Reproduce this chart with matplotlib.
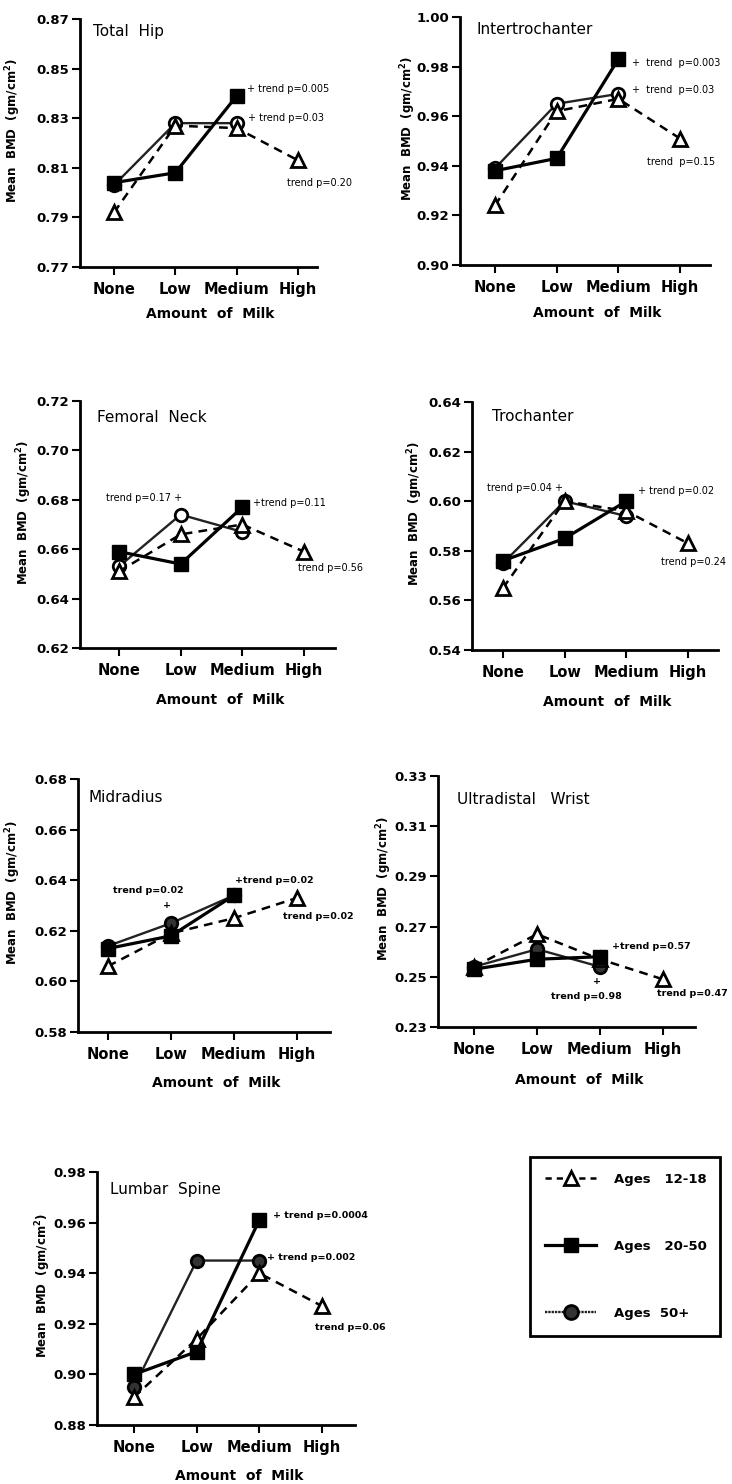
import matplotlib
matplotlib.use('Agg')
import matplotlib.pyplot as plt
from matplotlib.lines import Line2D

plt.rcParams['font.family'] = ['DejaVu Sans']

categories = ['None', 'Low', 'Medium', 'High']
sites = ['Total  Hip', 'Intertrochanter', 'Femoral  Neck', 'Trochanter',
         'Midradius', 'Ultradistal   Wrist', 'Lumbar  Spine']
series_names = ['Ages   12-18', 'Ages   20-50', 'Ages  50+']

yticks = [
    [0.77, 0.79, 0.81, 0.83, 0.85, 0.87],
    [0.90, 0.92, 0.94, 0.96, 0.98, 1.00],
    [0.62, 0.64, 0.66, 0.68, 0.70, 0.72],
    [0.54, 0.56, 0.58, 0.60, 0.62, 0.64],
    [0.58, 0.60, 0.62, 0.64, 0.66, 0.68],
    [0.23, 0.25, 0.27, 0.29, 0.31, 0.33],
    [0.88, 0.90, 0.92, 0.94, 0.96, 0.98],
]

# mean BMD (gm/cm2) by milk intake
teen = [  # Ages 12-18: None, Low, Medium, High
    [0.792, 0.827, 0.826, 0.813],
    [0.924, 0.962, 0.967, 0.951],
    [0.651, 0.666, 0.670, 0.659],
    [0.565, 0.600, 0.596, 0.583],
    [0.606, 0.619, 0.625, 0.633],
    [0.254, 0.267, 0.257, 0.249],
    [0.891, 0.914, 0.940, 0.927],
]
adult = [  # Ages 20-50: None, Low, Medium
    [0.804, 0.808, 0.839],
    [0.938, 0.943, 0.983],
    [0.659, 0.654, 0.677],
    [0.576, 0.585, 0.600],
    [0.613, 0.618, 0.634],
    [0.253, 0.257, 0.258],
    [0.900, 0.909, 0.961],
]
older = [  # Ages 50+: None, Low, Medium
    [0.803, 0.828, 0.828],
    [0.939, 0.965, 0.969],
    [0.653, 0.674, 0.667],
    [0.575, 0.600, 0.594],
    [0.614, 0.623, 0.634],
    [0.254, 0.261, 0.254],
    [0.895, 0.945, 0.945],
]

# trend annotations: (text, x, y, ha)
notes = [
    [('+ trend p=0.005', 2.17, 0.8418, 'left'), ('+ trend p=0.03', 2.19, 0.8302, 'left'),
     ('trend p=0.20', 2.82, 0.8040, 'left')],
    [('+  trend  p=0.003', 2.22, 0.9815, 'left'), ('+  trend  p=0.03', 2.22, 0.9706, 'left'),
     ('trend  p=0.15', 2.46, 0.9415, 'left')],
    [('trend p=0.17 +', 1.02, 0.6807, 'right'), ('+trend p=0.11', 2.17, 0.6787, 'left'),
     ('trend p=0.56', 2.90, 0.6524, 'left')],
    [('trend p=0.04 +', 0.97, 0.6053, 'right'), ('+ trend p=0.02', 2.19, 0.6040, 'left'),
     ('trend p=0.24', 2.56, 0.5755, 'left')],
    [('trend p=0.02', 0.64, 0.6360, 'center'), ('+', 0.93, 0.6300, 'center'),
     ('+trend p=0.02', 2.02, 0.6400, 'left'), ('trend p=0.02', 2.78, 0.6255, 'left')],
    [('+trend p=0.57', 2.19, 0.2619, 'left'), ('+', 1.95, 0.2483, 'center'),
     ('trend p=0.98', 1.79, 0.2420, 'center'), ('trend p=0.47', 2.90, 0.2435, 'left')],
    [('+ trend p=0.0004', 2.22, 0.9630, 'left'), ('+ trend p=0.002', 2.12, 0.9464, 'left'),
     ('trend p=0.06', 2.89, 0.9187, 'left')],
]

# layout in pixels: left, top, right, bottom, x of None tick, x of High tick
boxes = [
    (80, 19, 317, 267, 114, 298),
    (460, 17, 710, 265, 495, 680),
    (80, 401, 335, 648, 119, 304),
    (472, 402, 718, 650, 503, 688),
    (78, 779, 330, 1032, 108, 297),
    (438, 776, 695, 1027, 474, 663),
    (97, 1172, 355, 1425, 134, 322),
]
title_pos = [(0.055, 0.948), (0.064, 0.95), (0.067, 0.935), (0.08, 0.94),
             (0.04, 0.925), (0.075, 0.905), (0.05, 0.93)]
ylab_x = [-0.24, -0.168, -0.18, -0.19, -0.22, -0.171, -0.17]
xlab_y = [-0.19, -0.195, -0.21, -0.21, -0.2, -0.21, -0.2]
circle_face = ['white', 'white', 'white', 'white', '#333333', '#333333', '#333333']

W, H = 732, 1484
fig = plt.figure(figsize=(W / 100, H / 100), dpi=100)

for i, site in enumerate(sites):
    l, t, r, b, p0, p3 = boxes[i]
    ax = fig.add_axes([l / W, 1 - b / H, (r - l) / W, (b - t) / H])
    s = (p3 - p0) / 3.0
    ax.set_xlim((l - p0) / s, (r - p0) / s)
    ax.set_ylim(yticks[i][0], yticks[i][-1])

    x4 = list(range(len(categories)))
    ax.plot(x4, teen[i], color='black', lw=1.8, ls=(0, (3.5, 2.5)), marker='^',
            ms=9.5, mfc='white', mec='black', mew=2.0, zorder=3)
    ax.plot(x4[:3], adult[i], color='black', lw=2.3, marker='s', ms=10,
            mfc='black', mec='black', zorder=4)
    ax.plot(x4[:3], older[i], color='#222222', lw=1.7, marker='o', ms=9,
            mfc=circle_face[i], mec='black', mew=2.0, zorder=2)

    for sp in ['top', 'right']:
        ax.spines[sp].set_visible(False)
    for sp in ['left', 'bottom']:
        ax.spines[sp].set_linewidth(2)
    ax.set_xticks(x4)
    ax.set_xticklabels(categories, fontsize=10.5, fontweight='bold')
    ax.set_yticks(yticks[i])
    ax.set_yticklabels(['%.2f' % v for v in yticks[i]], fontsize=9.5, fontweight='bold')
    ax.tick_params(axis='both', direction='out', length=6, width=1.5)
    ax.tick_params(axis='x', pad=5)
    ax.tick_params(axis='y', pad=2)

    ax.text(title_pos[i][0], title_pos[i][1], site, transform=ax.transAxes,
            fontsize=11, va='center', ha='left')
    ax.set_ylabel('Mean  BMD  (gm/cm$^\\mathbf{2}$)', fontsize=8.5, fontweight='bold')
    ax.yaxis.set_label_coords(ylab_x[i], 0.55)
    ax.text(0.55, xlab_y[i], 'Amount  of  Milk', transform=ax.transAxes, fontsize=10,
            fontweight='bold', ha='center', va='center')

    for txt, x, y, ha in notes[i]:
        if i >= 4:
            ax.text(x, y, txt, fontsize=6.8, ha=ha, va='center', fontweight='bold')
        else:
            ax.text(x, y, txt, fontsize=7, ha=ha, va='center')

handles = [
    Line2D([], [], color='black', lw=1.8, ls=(0, (2.5, 2)), marker='^', ms=9.5,
           mfc='white', mec='black', mew=2.0),
    Line2D([], [], color='black', lw=2.3, marker='s', ms=10.5, mfc='black', mec='black'),
    Line2D([], [], color='#222222', lw=1.7, ls=(0, (1, 0.4)), marker='o', ms=10,
           mfc='#333333', mec='black', mew=2.0),
]
leg = fig.legend(handles, series_names, loc='center',
                 bbox_to_anchor=(523 / W, 1 - 1335 / H, (727 - 523) / W, (1335 - 1158) / H),
                 mode='expand', prop={'weight': 'bold', 'size': 9.5}, labelspacing=4.1,
                 borderpad=1.2, handlelength=3.8, handletextpad=1.4, fancybox=False,
                 edgecolor='black', framealpha=1)
leg.get_frame().set_linewidth(2)

fig.savefig('out.png', dpi=100)
